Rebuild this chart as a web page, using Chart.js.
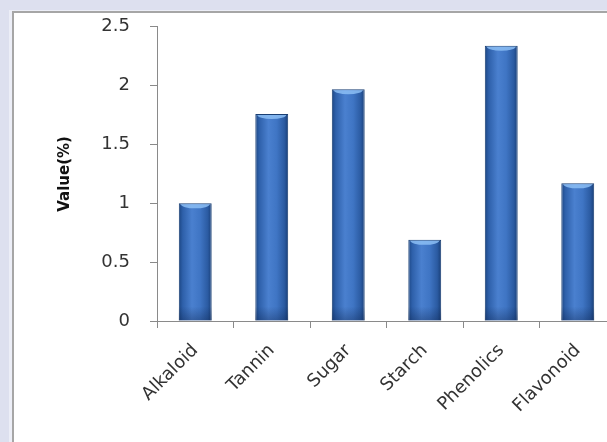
<!DOCTYPE html>
<html>
<head>
<meta charset="utf-8">
<script src="https://cdn.jsdelivr.net/npm/chart.js@4"></script>
<style>
  html, body { margin: 0; padding: 0; width: 607px; height: 442px; overflow: hidden; background: #dde0ef; }
  #panel {
    position: absolute; left: 12px; top: 11px; width: 620px; height: 440px;
    background: #fff; border-left: 2px solid #a6a6a6; border-top: 2px solid #a6a6a6;
    box-shadow: -3px -1px 0 #eceef7;
  }
  #wrap { position: absolute; left: 16px; top: -4px; width: 600px; height: 444px; }
</style>
</head>
<body>
<div id="panel"></div>
<div id="wrap"><canvas id="chart"></canvas></div>
<script>
// chart values
const categories = ["Alkaloid", "Tannin", "Sugar", "Starch", "Phenolics", "Flavonoid"];
const values = [1.0, 1.76, 1.97, 0.69, 2.34, 1.17];
const yTicks = [0, 0.5, 1, 1.5, 2, 2.5];

const BAR_PCT = 0.43;

// cylinder look: horizontal gradient across each bar
function barFill(c) {
    const chart = c.chart;
    if (!chart.chartArea || !chart.scales.x) return '#3b70bf';
    const xs = chart.scales.x;
    const cx = xs.getPixelForValue(c.dataIndex);
    const w = (xs.width / categories.length) * BAR_PCT;
    const g = chart.ctx.createLinearGradient(cx - w / 2, 0, cx + w / 2, 0);
    g.addColorStop(0, '#1c4684');
    g.addColorStop(0.12, '#2e60aa');
    g.addColorStop(0.4, '#4a80cf');
    g.addColorStop(0.65, '#3f75c4');
    g.addColorStop(0.88, '#2b5ba2');
    g.addColorStop(1, '#193f78');
    return g;
}

// light cap on top of each bar, dark shade at the foot
const capPlugin = {
    id: 'caps',
    afterDatasetsDraw(chart) {
        const ctx = chart.ctx;
        chart.getDatasetMeta(0).data.forEach(function (bar) {
            const w = bar.width;
            ctx.save();
            const g = ctx.createLinearGradient(0, bar.base - 14, 0, bar.base);
            g.addColorStop(0, 'rgba(10,30,70,0)');
            g.addColorStop(1, 'rgba(10,30,70,0.35)');
            ctx.fillStyle = g;
            ctx.fillRect(bar.x - w / 2, bar.base - 14, w, 14);
            ctx.beginPath();
            ctx.ellipse(bar.x, bar.y + 1, w / 2 - 2, 4, 0, 0, Math.PI);
            ctx.fillStyle = 'rgba(140,190,245,0.85)';
            ctx.fill();
            ctx.restore();
        });
    }
};

new Chart(document.getElementById('chart'), {
    type: 'bar',
    data: {
        labels: categories,
        datasets: [{
            label: 'Value(%)',
            data: values,
            backgroundColor: barFill,
            borderColor: '#1a3f73',
            borderWidth: 1,
            borderSkipped: 'bottom',
            barPercentage: BAR_PCT,
            categoryPercentage: 1
        }]
    },
    options: {
        responsive: true,
        maintainAspectRatio: false,
        animation: false,
        layout: { padding: { top: 0, left: 0, right: 0, bottom: 0 } },
        plugins: {
            legend: { display: false },
            tooltip: { enabled: false }
        },
        scales: {
            x: {
                grid: { drawOnChartArea: false, color: '#8a8a8a', tickLength: 7, offset: true },
                border: { color: '#8a8a8a', width: 1 },
                ticks: {
                    color: '#333',
                    font: { family: 'DejaVu Sans', size: 18 },
                    minRotation: 45, maxRotation: 45,
                    padding: 12
                },
                afterFit(s) { s.height = 119; }
            },
            y: {
                min: 0, max: 2.5,
                afterBuildTicks(s) { s.ticks = yTicks.map(v => ({ value: v })); },
                grid: { drawOnChartArea: false, color: '#8a8a8a', tickLength: 7 },
                border: { color: '#8a8a8a', width: 1 },
                ticks: {
                    color: '#333',
                    font: { family: 'DejaVu Sans', size: 18 },
                    padding: 20,
                    callback: v => String(v)
                },
                title: {
                    display: true,
                    text: 'Value(%)',
                    color: '#111',
                    font: { family: 'DejaVu Sans', size: 15, weight: 'bold' },
                    padding: { top: 40, bottom: 0 }
                },
                afterFit(s) { s.width = 141; }
            }
        }
    },
    plugins: [capPlugin]
});
</script>
</body>
</html>
